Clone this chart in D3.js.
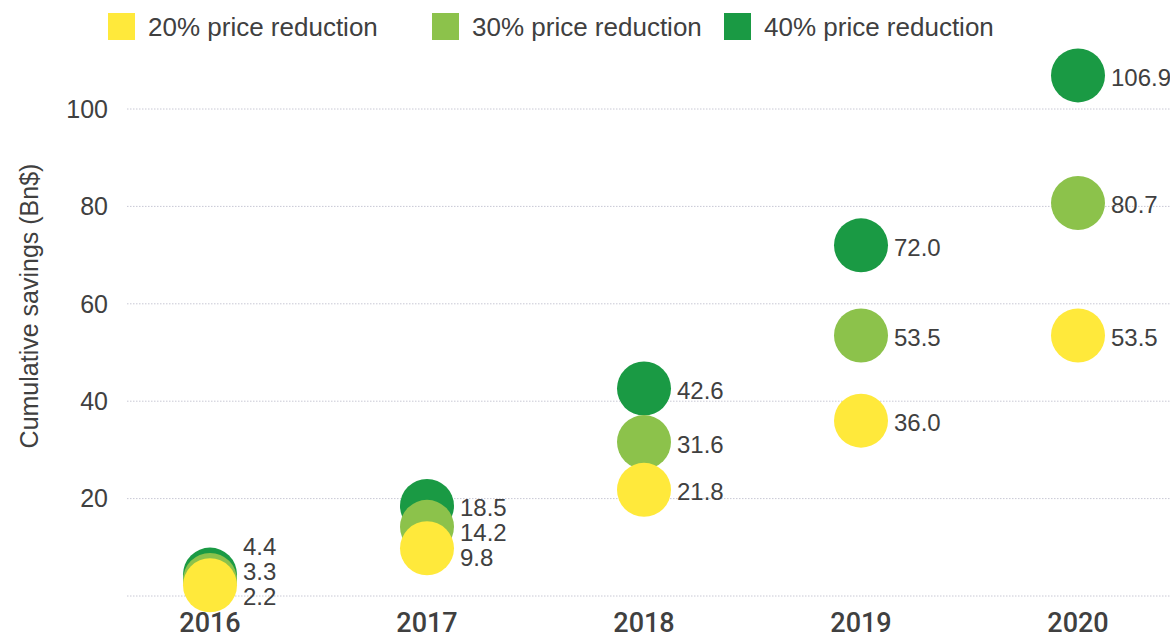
<!DOCTYPE html>
<html>
<head>
<meta charset="utf-8">
<script src="https://cdn.jsdelivr.net/npm/d3@7"></script>
<style>
  body { margin: 0; background: #fff; }
  svg { display: block; font-family: "Liberation Sans", Arial, sans-serif; }
</style>
</head>
<body>
<div id="chart"></div>
<script>
// ----------------------------------------
// DATA
// ----------------------------------------
const years = ["2016", "2017", "2018", "2019", "2020"];
const seriesNames = ["40% price reduction", "30% price reduction", "20% price reduction"];
const savings40 = [4.4, 18.5, 42.6, 72.0, 106.9];
const savings30 = [3.3, 14.2, 31.6, 53.5, 80.7];
const savings20 = [2.2, 9.8, 21.8, 36.0, 53.5];
const yTicks = [0, 20, 40, 60, 80, 100];
const legendOrder = ["20% price reduction", "30% price reduction", "40% price reduction"];

const colors = {
  "20% price reduction": "#FFE93B",
  "30% price reduction": "#8CC24B",
  "40% price reduction": "#1A9A44"
};

const seriesValues = [savings40, savings30, savings20];

// ----------------------------------------
// SETUP
// ----------------------------------------
const width = 1170, height = 640;
const textColor = "#404040";

const svg = d3.select("#chart")
  .append("svg")
  .attr("width", width)
  .attr("height", height);

const x = d3.scalePoint()
  .domain(years)
  .range([210, 1078]);

const y = d3.scaleLinear()
  .domain([0, 100])
  .range([596, 109]);

// grid lines
svg.append("g")
  .selectAll("line")
  .data(yTicks)
  .join("line")
  .attr("x1", 127)
  .attr("x2", width)
  .attr("y1", d => y(d))
  .attr("y2", d => y(d))
  .attr("stroke", "#c8c8d4")
  .attr("stroke-width", 1)
  .attr("stroke-dasharray", "1.5,1.5");

// y tick labels (no label at 0)
svg.append("g")
  .selectAll("text")
  .data(yTicks.filter(d => d > 0))
  .join("text")
  .attr("x", 108)
  .attr("y", d => y(d))
  .attr("dy", "0.35em")
  .attr("text-anchor", "end")
  .attr("fill", textColor)
  .style("font-size", "25px")
  .text(d => d);

// y axis title
svg.append("text")
  .attr("transform", "translate(38,306) rotate(-90)")
  .attr("text-anchor", "middle")
  .attr("fill", textColor)
  .style("font-size", "25px")
  .text("Cumulative savings (Bn$)");

// year labels, right at the bottom edge
svg.append("g")
  .selectAll("text")
  .data(years)
  .join("text")
  .attr("x", d => x(d))
  .attr("y", 632)
  .attr("text-anchor", "middle")
  .attr("fill", textColor)
  .style("font-family", "Roboto, sans-serif")
  .style("font-size", "27px")
  .style("font-weight", "500")
  .text(d => d);

// ----------------------------------------
// BUBBLES
// ----------------------------------------
const points = [];
seriesNames.forEach((name, si) => {
  years.forEach((yr, i) => {
    points.push({ series: name, year: yr, value: seriesValues[si][i] });
  });
});

svg.append("g")
  .selectAll("circle")
  .data(points)
  .join("circle")
  .attr("cx", d => x(d.year))
  .attr("cy", d => y(d.value))
  .attr("r", 27)
  .attr("fill", d => colors[d.series]);

// labels: push apart within each year, keep above the bottom line
const labelPos = [];
years.forEach(yr => {
  const grp = points.filter(d => d.year === yr)
    .map(d => ({ ...d, ly: y(d.value) + 2 }))
    .sort((a, b) => a.ly - b.ly);
  for (let i = 1; i < grp.length; i++) {
    if (grp[i].ly < grp[i - 1].ly + 25) grp[i].ly = grp[i - 1].ly + 25;
  }
  const limit = y(0) + 1;
  const over = grp[grp.length - 1].ly - limit;
  if (over > 0) grp.forEach(d => d.ly -= over);
  labelPos.push(...grp);
});

svg.append("g")
  .selectAll("text")
  .data(labelPos)
  .join("text")
  .attr("x", d => x(d.year) + 33)
  .attr("y", d => d.ly)
  .attr("dy", "0.35em")
  .attr("fill", textColor)
  .style("font-size", "24px")
  .text(d => d.value.toFixed(1));

// ----------------------------------------
// LEGEND
// ----------------------------------------
const legendX = [108, 432, 724];

const legend = svg.append("g")
  .selectAll("g")
  .data(legendOrder)
  .join("g")
  .attr("transform", (d, i) => `translate(${legendX[i]},13)`);

legend.append("rect")
  .attr("width", 27)
  .attr("height", 27)
  .attr("fill", d => colors[d]);

legend.append("text")
  .attr("x", 40)
  .attr("y", 23)
  .attr("fill", textColor)
  .style("font-size", "26px")
  .text(d => d);
</script>
</body>
</html>
